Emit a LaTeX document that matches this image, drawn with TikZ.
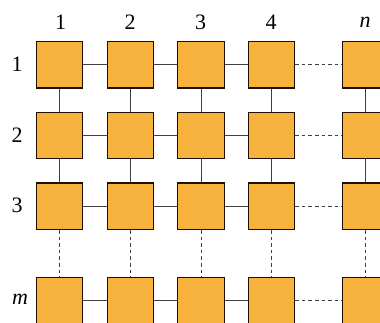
\documentclass[tikz,border=0pt]{standalone}
\usepackage{fontspec}
\setmainfont{Liberation Serif}
\begin{document}
\begin{tikzpicture}[x=0.5pt,y=-0.5pt,
  cell/.style={draw=black!80!orange!60!black,line width=0.6pt,fill=cellfill,minimum size=23.2pt,inner sep=0pt},
  link/.style={draw=black!75,line width=0.5pt},
  dlink/.style={link,dash pattern=on 1.8pt off 1.5pt},
  lab/.style={font=\fontsize{11}{13}\selectfont,inner sep=0pt}]
\definecolor{cellfill}{HTML}{F7B13D}
\useasboundingbox (0,0) rectangle (380,322);
\clip (0,0) rectangle (380,322);
% column centers
\foreach \c/\x in {1/59.5,2/130.3,3/201,4/271.3,5/365.8}{
  \foreach \r/\y in {1/64.7,2/135.5,3/206.2,4/300.5}{
    \node[cell] (c\r\c) at (\x,\y) {};
  }
}
% labels
\node[lab] (t1) at (60.5,22) {1};
\node[lab] (t2) at (130,22) {2};
\node[lab] (t3) at (200.5,22) {3};
\node[lab] (t4) at (271,22) {4};
\node[lab] (tn) at (365,22) {\textit{n}};
\node[lab] (l1) at (17,64.5) {1};
\node[lab] (l2) at (17,135) {2};
\node[lab] (l3) at (17,205.5) {3};
\node[lab] (lm) at (20,299.5) {\textit{m}};
% horizontal links
\foreach \r in {1,2,3,4}{
  \draw[link] (c\r1) -- (c\r2);
  \draw[link] (c\r2) -- (c\r3);
  \draw[link] (c\r3) -- (c\r4);
  \draw[dlink] (c\r4) -- (c\r5);
}
% vertical links
\foreach \c in {1,2,3,4,5}{
  \draw[link] (c1\c) -- (c2\c);
  \draw[link] (c2\c) -- (c3\c);
  \draw[dlink] (c3\c) -- (c4\c);
}
\end{tikzpicture}
\end{document}
